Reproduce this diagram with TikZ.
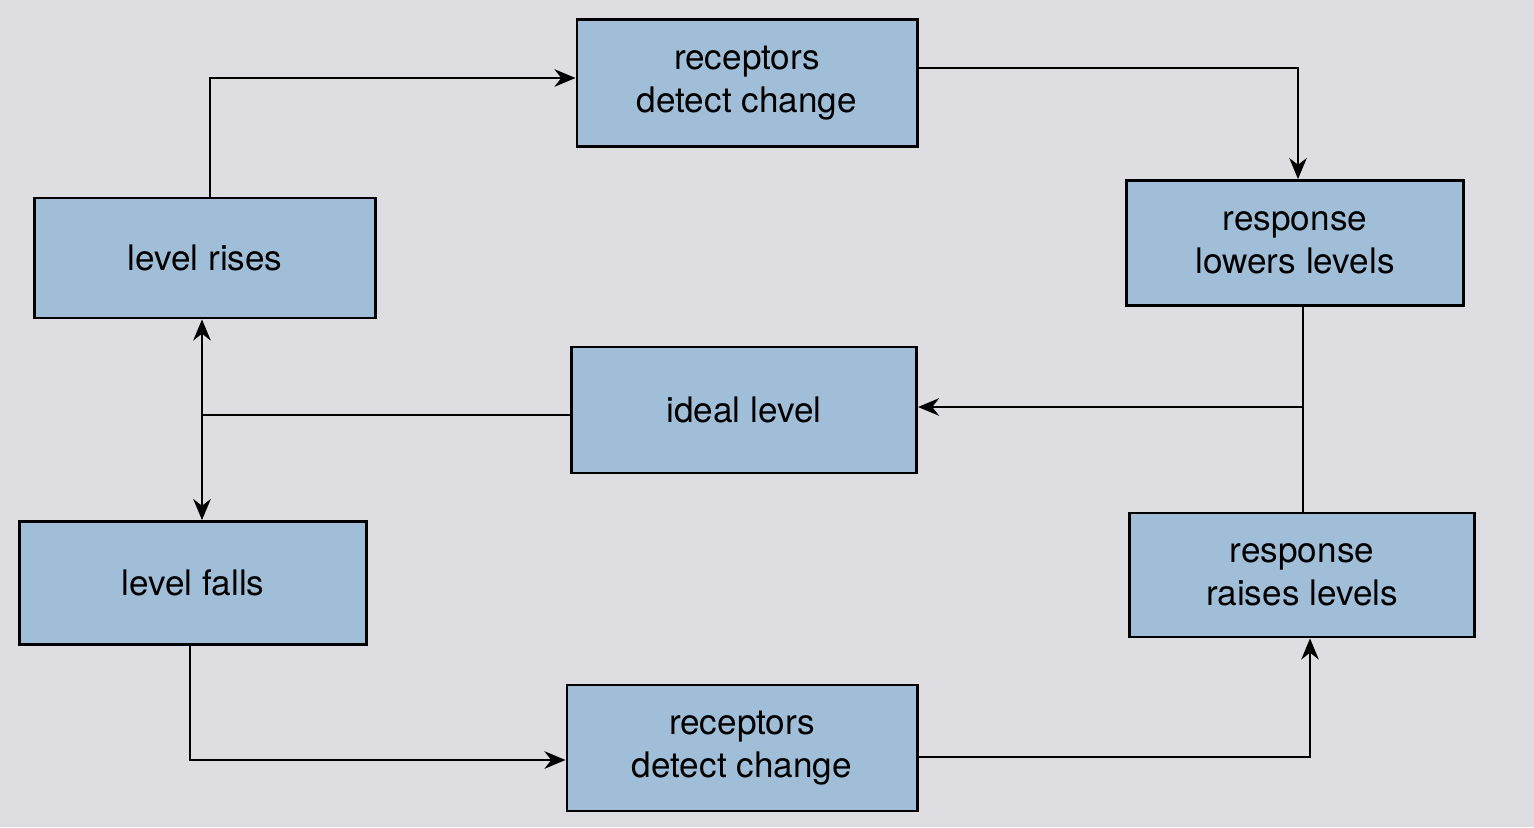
\documentclass[tikz,border=0pt]{standalone}
\usepackage{fontspec}
\setmainfont{TeX Gyre Heros}
\usetikzlibrary{arrows.meta,positioning}
\definecolor{boxblue}{RGB}{160,190,216}
\definecolor{pagegrey}{RGB}{222,222,226}
\begin{document}
\begin{tikzpicture}[x=0.01cm,y=-0.01cm,
  stagebox/.style={draw,thick,fill=boxblue,align=center,inner sep=0pt,
    font=\fontsize{10}{12.3}\selectfont},
  flow/.style={-{Stealth[length=6pt,width=5pt]},semithick}]
  \fill[pagegrey] (0,0) rectangle (1534,827);
  % boxes
  \node[stagebox,minimum width=3.40cm,minimum height=1.27cm] (rtop) at (747,83) {receptors\\detect change};
  \node[stagebox,minimum width=3.40cm,minimum height=1.20cm] (rise) at (205,258) {level rises};
  \node[stagebox,minimum width=3.37cm,minimum height=1.25cm] (lower) at (1295,243) {response\\lowers levels};
  \node[stagebox,minimum width=3.45cm,minimum height=1.26cm] (ideal) at (744,410) {ideal level};
  \node[stagebox,minimum width=3.47cm,minimum height=1.23cm] (fall) at (193,583) {level falls};
  \node[stagebox,minimum width=3.45cm,minimum height=1.24cm] (raise) at (1302,575) {response\\raises levels};
  \node[stagebox,minimum width=3.50cm,minimum height=1.26cm] (rbot) at (742,748) {receptors\\detect change};
  \coordinate (split) at (202,415);
  \coordinate (merge) at (1303,407);
  % connectors
  \draw[flow] (rise.north -| 210,0) |- (rtop.west |- 0,78);
  \draw[flow] (rtop.east |- 0,68) -| (lower.north -| 1298,0);
  \draw[semithick] (lower.south -| merge) -- (raise.north -| merge);
  \draw[flow] (merge) -- (ideal.east |- merge);
  \draw[semithick] (ideal.west |- split) -- (split);
  \draw[flow] (split) -- (rise.south -| split);
  \draw[flow] (split) -- (fall.north -| split);
  \draw[flow] (fall.south -| 190,0) |- (rbot.west |- 0,760);
  \draw[flow] (rbot.east |- 0,757) -| (raise.south -| 1310,0);
\end{tikzpicture}
\end{document}
